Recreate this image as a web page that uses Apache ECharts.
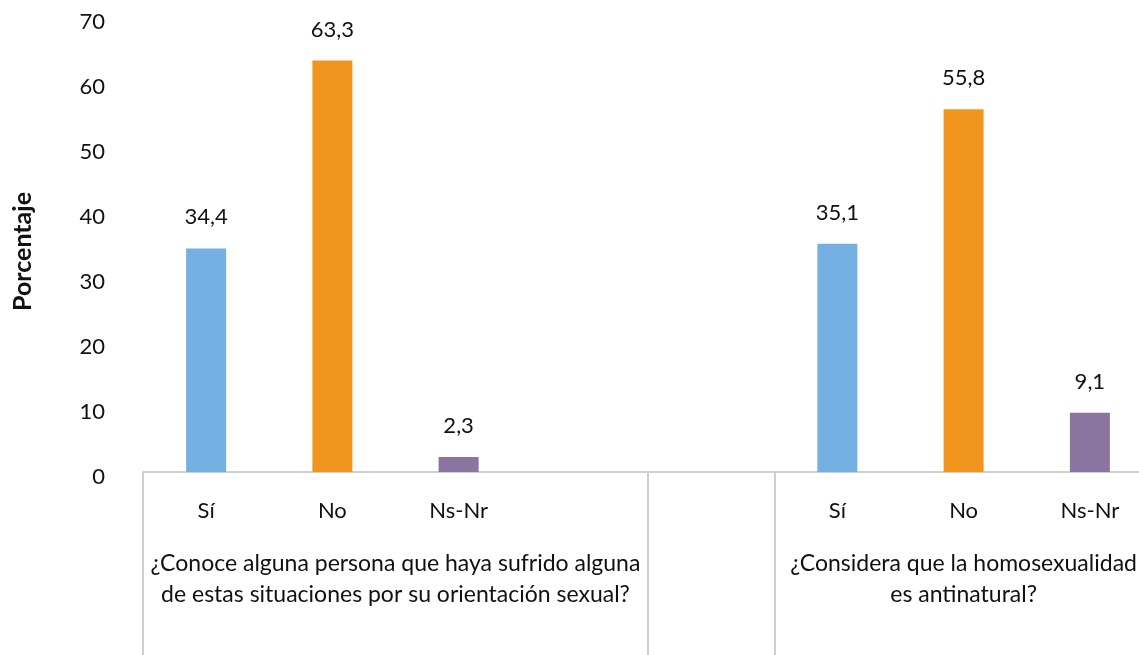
<!DOCTYPE html>
<html>
<head>
<meta charset="utf-8">
<script src="https://cdn.jsdelivr.net/npm/echarts@6/dist/echarts.min.js"></script>
<style>
html,body{margin:0;padding:0;background:#fff;}
#chart{width:1139px;height:655px;}
</style>
</head>
<body>
<div id="chart"></div>
<script>
// ---- data ----
const answers = ['Sí', 'No', 'Ns-Nr'];
const groupLabels = [
  '¿Conoce alguna persona que haya sufrido alguna\nde estas situaciones por su orientación sexual?',
  '¿Considera que la homosexualidad\nes antinatural?'
];
const conoceValues = [34.4, 63.3, 2.3];
const consideraValues = [35.1, 55.8, 9.1];
const yTicks = [0, 10, 20, 30, 40, 50, 60, 70];
const yTitle = 'Porcentaje';

// ---- styles ----
const answerColors = ['#74B0E1', '#F2951E', '#8A75A0'];
const FONT = 'Lato';
const gray = '#cfcfcf';

// categories: group 1 (3 answers + blank), separate blank slot, group 2 (3 answers)
const categories = [...answers, '', '', ...answers];
const values = [...conoceValues, null, null, ...consideraValues];
const barData = values.map((v, i) => {
  const idx = answers.indexOf(categories[i]);
  return v === null ? null : { value: v, itemStyle: { color: answerColors[idx] } };
});
// group boundaries in category units
const groupBounds = [0, 4, 5, categories.length];
const groupCenters = [(groupBounds[0] + groupBounds[1]) / 2, (groupBounds[2] + groupBounds[3]) / 2];

const chart = echarts.init(document.getElementById('chart'));
chart.setOption({
  animation: false,
  textStyle: { fontFamily: FONT },
  grid: { left: 143, top: 17, bottom: 183, width: 1010, containLabel: false, outerBoundsMode: 'none' },
  xAxis: [
    {
      type: 'category',
      data: categories,
      axisLine: { show: true, lineStyle: { color: gray, width: 2 } },
      axisTick: { show: false },
      axisLabel: { fontSize: 22, lineHeight: 24, color: '#111', margin: 27, fontFamily: FONT, interval: 0 }
    },
    {
      type: 'value',
      min: 0,
      max: categories.length,
      position: 'bottom',
      splitLine: { show: false },
      axisLine: { show: false },
      axisTick: {
        show: true,
        customValues: groupBounds,
        length: 190,
        lineStyle: { color: gray, width: 2 }
      },
      axisLabel: {
        customValues: groupCenters,
        formatter: (v) => (v === groupCenters[0] ? groupLabels[0] : groupLabels[1]),
        fontSize: 23,
        lineHeight: 31,
        color: '#111',
        margin: 76,
        align: 'center',
        fontFamily: FONT
      }
    }
  ],
  yAxis: {
    type: 'value',
    min: yTicks[0],
    max: yTicks[yTicks.length - 1],
    interval: yTicks[1] - yTicks[0],
    name: yTitle,
    nameLocation: 'middle',
    nameRotate: 90,
    nameGap: 108,
    nameTextStyle: { fontSize: 25, fontWeight: 'bold', color: '#111', fontFamily: FONT, padding: [0, 14, 0, 0] },
    axisLine: { show: false },
    axisTick: { show: false },
    splitLine: { show: false },
    axisLabel: { fontSize: 22, color: '#111', margin: 38, verticalAlign: 'top', lineHeight: 10, fontFamily: FONT }
  },
  series: [
    {
      type: 'bar',
      xAxisIndex: 0,
      yAxisIndex: 0,
      data: barData,
      barWidth: 40,
      label: {
        show: true,
        position: 'top',
        distance: 20,
        fontSize: 22,
        lineHeight: 22,
        color: '#111',
        fontFamily: FONT,
        formatter: (p) => String(p.value).replace('.', ',')
      }
    }
  ]
});
</script>
</body>
</html>
